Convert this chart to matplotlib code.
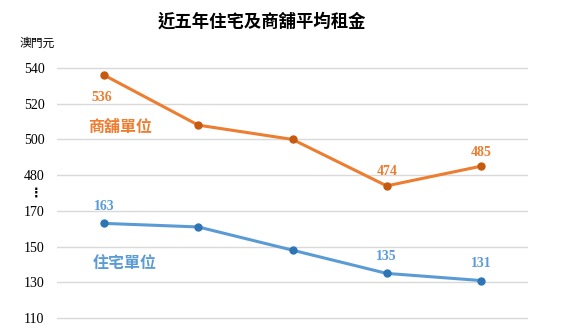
import numpy as np
import matplotlib
matplotlib.use("Agg")
from matplotlib import pyplot as plt
from matplotlib import transforms

plt.rcParams['font.family'] = ['Noto Sans CJK TC', 'DejaVu Sans']

# five years of average rent (MOP)
years = [0, 1, 2, 3, 4]
shop_rent = [536, 508, 500, 474, 485]      # 商舖單位
home_rent = [163, 161, 148, 135, 131]      # 住宅單位
shop_labels = {0: 536, 3: 474, 4: 485}
home_labels = {0: 163, 3: 135, 4: 131}

lower_ticks = [110, 130, 150, 170]
upper_ticks = [480, 500, 520, 540]

# broken axis: the upper band (480-540) sits one grid step above 170
shift = 480 - 190
def up(v):
    return np.asarray(v) - shift

orange = '#ED7D31'
orange_dark = '#C55A11'
blue = '#5B9BD5'
blue_dark = '#2E75B6'

fig = plt.figure(figsize=(5.78, 3.25), dpi=100)
ax = fig.add_axes([57/578, 1 - 323.4/325, 471/578, (323.4 - 53.7)/325])

ax.plot(years, up(shop_rent), color=orange, lw=2.2, marker='o', ms=5,
        mfc=orange_dark, mec=orange_dark, zorder=3)
ax.plot(years, home_rent, color=blue, lw=2.2, marker='o', ms=5,
        mfc=blue_dark, mec=blue_dark, zorder=3)

ticks = lower_ticks + list(up(upper_ticks))
ax.set_yticks(ticks)
ax.set_yticklabels([str(t) for t in lower_ticks + upper_ticks],
                   fontfamily='Liberation Serif', fontsize=10)
ax.set_xticks([])
ax.set_xlim(-0.5, 4.5)
ax.set_ylim(107, 258)
ax.grid(axis='y', color='#D9D9D9', lw=1)
ax.set_axisbelow(True)
for s in ax.spines.values():
    s.set_visible(False)
ax.tick_params(axis='y', length=0, pad=9)

# value labels
for i, v in shop_labels.items():
    dy = -16 if i == 0 else 10
    dx = -0.03 if i == 0 else 0
    ax.annotate(str(v), (years[i] + dx, up(v)), xytext=(0, dy), textcoords='offset points',
                ha='center', va='center', color=orange, fontsize=10,
                fontweight='bold', fontfamily='Liberation Serif')
for i, v in home_labels.items():
    ax.annotate(str(v), (years[i], v), xytext=(0, 12), textcoords='offset points',
                ha='center', va='center', color=blue, fontsize=10,
                fontweight='bold', fontfamily='Liberation Serif')

# series names
ax.text(0.17, up(507), '商舖單位', color=orange, fontsize=11.5, fontweight='bold',
        ha='center', va='center')
ax.text(0.22, 141, '住宅單位', color=blue, fontsize=11.5, fontweight='bold',
        ha='center', va='center')

# break marker between 170 and 480
trans = transforms.blended_transform_factory(fig.transFigure, ax.transData)
ax.text(36/578, 180, '⋮', transform=trans, ha='center', va='center',
        fontsize=9, fontweight='bold', fontfamily='DejaVu Sans')

fig.text(262/578, 1 - 22/325, '近五年住宅及商舖平均租金', ha='center', va='center',
         fontsize=12.5, fontweight='bold')
fig.text(20/578, 1 - 43/325, '澳門元', ha='left', va='center', fontsize=8.5)

fig.savefig('out.png', dpi=100)
